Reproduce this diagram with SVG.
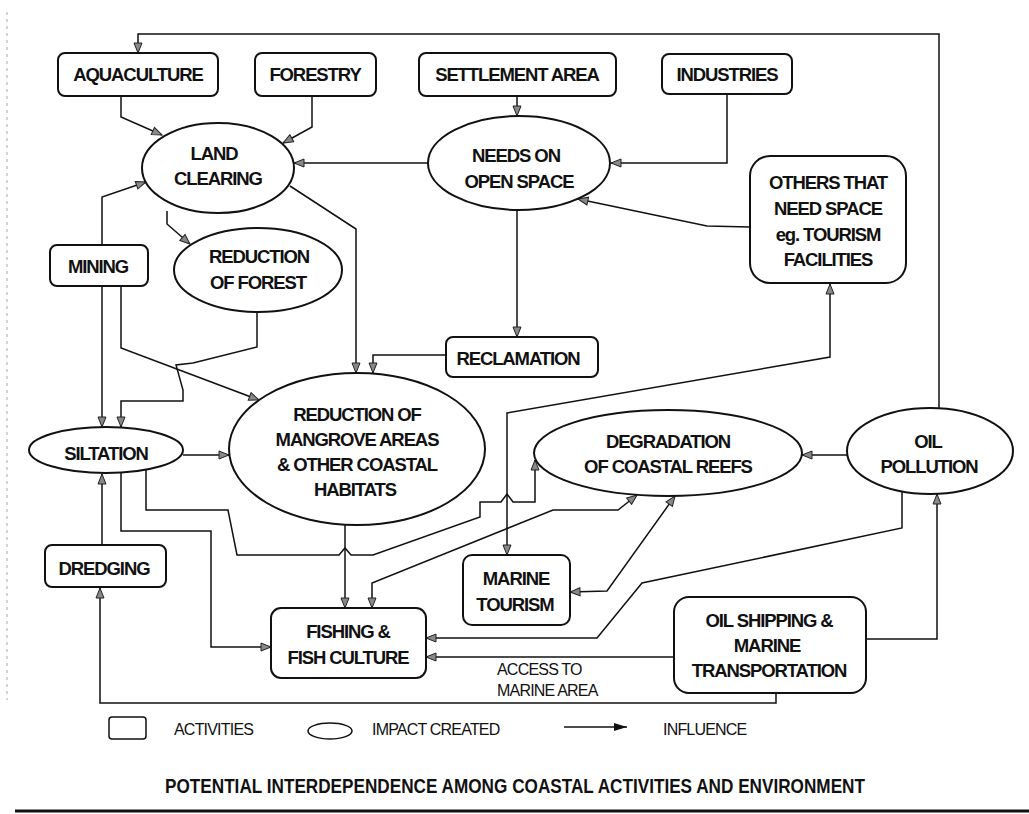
<svg xmlns="http://www.w3.org/2000/svg" width="1029" height="814" viewBox="0 0 1029 814">
<defs>
<style>
.box{fill:#fff;stroke:#111;stroke-width:2}
.ell{fill:#fff;stroke:#111;stroke-width:2}
.c{fill:none;stroke:#111;stroke-width:1.5;marker-end:url(#ah)}
.c2{fill:none;stroke:#111;stroke-width:1.5;marker-start:url(#ah);marker-end:url(#ah)}
.n{font-family:"Liberation Sans",Arial,sans-serif;font-weight:bold;font-size:18.5px;letter-spacing:-1.1px;text-anchor:middle;fill:#111}
.l{font-family:"Liberation Sans",Arial,sans-serif;font-size:16px;letter-spacing:-0.8px;fill:#111}
.t{font-family:"Liberation Sans",Arial,sans-serif;font-weight:bold;font-size:20px;text-anchor:middle;fill:#111}
</style>
<marker id="ah" viewBox="0 0 12 10" refX="11" refY="5" markerWidth="12" markerHeight="10" orient="auto-start-reverse" markerUnits="userSpaceOnUse">
<path d="M1,1 L11,5 L1,9 z" fill="#888" stroke="#222" stroke-width="1"/>
</marker>
<marker id="ahb" viewBox="0 0 14 10" refX="13" refY="5" markerWidth="14" markerHeight="10" orient="auto" markerUnits="userSpaceOnUse">
<path d="M0,1 L13,5 L0,9 z" fill="#111"/>
</marker>
</defs>
<rect width="1029" height="814" fill="#fff"/>
<line x1="7" y1="12" x2="7" y2="700" stroke="#aaa" stroke-width="1" stroke-dasharray="3 4"/>
<line x1="15" y1="811" x2="1029" y2="811" stroke="#111" stroke-width="3"/>

<g id="connectors">
<path class="c" d="M939,408 V34 H138 V53"/>
<path class="c" d="M121,96 V117 L162,135"/>
<path class="c" d="M312,96 V127 L283,143"/>
<path class="c" d="M517,96 V116"/>
<path class="c" d="M727,94 V163 H611"/>
<path class="c" d="M428,163 H294"/>
<path class="c" d="M750,227 L707,226 L578,199"/>
<path class="c" d="M167,211 V224 L190,244"/>
<path class="c" d="M290,186 L356,229 V373"/>
<path class="c" d="M102,245 V197 L146,182"/>
<path class="c" d="M102,286 V427"/>
<path class="c" d="M121,286 V348 L259,400"/>
<path class="c" d="M257,312 V347 L193,363 L176,365 L183,390 V401 H121 V427"/>
<path class="c" d="M446,355 H373 V373"/>
<path class="c" d="M517,210 V337"/>
<path class="c" d="M183,455 H229"/>
<path class="c" d="M102,545 V474"/>
<path class="c" d="M776,693 V703 H100 V588"/>
<path class="c" d="M121,473 V531 H211 V647 H271"/>
<path class="c" d="M146,470 V510 H228 L237,555 H339 L345,548 L351,555 H373 L480,517 V502 H501 L507,494 L513,502 H535 V460"/>
<path class="c" d="M345,525 V608"/>
<path class="c2" d="M372,608 V583 L553,510 H618 L637,495"/>
<path class="c2" d="M830,284 V357 L507,413 V555"/>
<path class="c2" d="M570,592 L607,591 L675,496"/>
<path class="c" d="M847,455 H802"/>
<path class="c" d="M902,492 V528 L642,583 L597,638 H426"/>
<path class="c" d="M674,657 H426"/>
<path class="c" d="M866,639 H937 V494"/>
</g>

<g id="aquaculture"><rect class="box" x="58" y="53" width="160" height="43" rx="7"/><text class="n" x="138" y="81">AQUACULTURE</text></g>
<g id="forestry"><rect class="box" x="255" y="53" width="121" height="43" rx="7"/><text class="n" x="315" y="81">FORESTRY</text></g>
<g id="settlement"><rect class="box" x="419" y="53" width="197" height="43" rx="7"/><text class="n" x="517" y="81">SETTLEMENT AREA</text></g>
<g id="industries"><rect class="box" x="662" y="54" width="130" height="40" rx="7"/><text class="n" x="727" y="81">INDUSTRIES</text></g>
<g id="others"><rect class="box" x="750" y="156" width="156" height="127" rx="20"/><text class="n" x="828" y="189">OTHERS THAT</text><text class="n" x="828" y="215">NEED SPACE</text><text class="n" x="828" y="241">eg. TOURISM</text><text class="n" x="828" y="266">FACILITIES</text></g>
<g id="land"><ellipse class="ell" cx="218" cy="168" rx="76" ry="45"/><text class="n" x="214" y="160">LAND</text><text class="n" x="218" y="185">CLEARING</text></g>
<g id="needs"><ellipse class="ell" cx="519" cy="163" rx="91" ry="47"/><text class="n" x="516" y="162">NEEDS ON</text><text class="n" x="519" y="188">OPEN SPACE</text></g>
<g id="mining"><rect class="box" x="50" y="245" width="98" height="41" rx="7"/><text class="n" x="98" y="273">MINING</text></g>
<g id="forest"><ellipse class="ell" cx="258" cy="270" rx="84" ry="42"/><text class="n" x="259" y="263">REDUCTION</text><text class="n" x="258" y="289">OF FOREST</text></g>
<g id="reclamation"><rect class="box" x="446" y="337" width="152" height="40" rx="7"/><text class="n" x="518" y="365">RECLAMATION</text></g>
<g id="siltation"><ellipse class="ell" cx="106" cy="450" rx="77" ry="23"/><text class="n" x="106" y="460">SILTATION</text></g>
<g id="mangrove"><ellipse class="ell" cx="357" cy="449" rx="128" ry="76"/><text class="n" x="357" y="421">REDUCTION OF</text><text class="n" x="357" y="446">MANGROVE AREAS</text><text class="n" x="357" y="471">&amp; OTHER COASTAL</text><text class="n" x="355" y="496">HABITATS</text></g>
<g id="degradation"><ellipse class="ell" cx="668" cy="453" rx="134" ry="43"/><text class="n" x="668" y="448">DEGRADATION</text><text class="n" x="668" y="473">OF COASTAL REEFS</text></g>
<g id="oil"><ellipse class="ell" cx="930" cy="451" rx="83" ry="43"/><text class="n" x="928" y="448">OIL</text><text class="n" x="929" y="473">POLLUTION</text></g>
<g id="dredging"><rect class="box" x="45" y="545" width="121" height="42" rx="7"/><text class="n" x="104" y="575">DREDGING</text></g>
<g id="marine"><rect class="box" x="463" y="555" width="107" height="70" rx="9"/><text class="n" x="516" y="585">MARINE</text><text class="n" x="515" y="611">TOURISM</text></g>
<g id="fishing"><rect class="box" x="271" y="608" width="155" height="70" rx="10"/><text class="n" x="348" y="638">FISHING &amp;</text><text class="n" x="348" y="664">FISH CULTURE</text></g>
<g id="oilshipping"><rect class="box" x="674" y="597" width="192" height="96" rx="15"/><text class="n" x="769" y="627">OIL SHIPPING &amp;</text><text class="n" x="767" y="652">MARINE</text><text class="n" x="769" y="677">TRANSPORTATION</text></g>

<g id="access-label"><text class="l" x="497" y="675">ACCESS TO</text><text class="l" x="497" y="696">MARINE AREA</text></g>

<g id="legend">
<rect x="109" y="717" width="37" height="22" rx="3" fill="#fff" stroke="#111" stroke-width="1.5"/>
<text class="l" x="174" y="735">ACTIVITIES</text>
<ellipse cx="330" cy="731" rx="22" ry="8" fill="#fff" stroke="#111" stroke-width="1.5"/>
<text class="l" x="372" y="735">IMPACT CREATED</text>
<line x1="564" y1="727" x2="627" y2="727" stroke="#111" stroke-width="1.5" marker-end="url(#ahb)"/>
<text class="l" x="663" y="735">INFLUENCE</text>
</g>
<text class="t" x="515" y="793" textLength="700" lengthAdjust="spacingAndGlyphs">POTENTIAL INTERDEPENDENCE AMONG COASTAL ACTIVITIES AND ENVIRONMENT</text>
</svg>
